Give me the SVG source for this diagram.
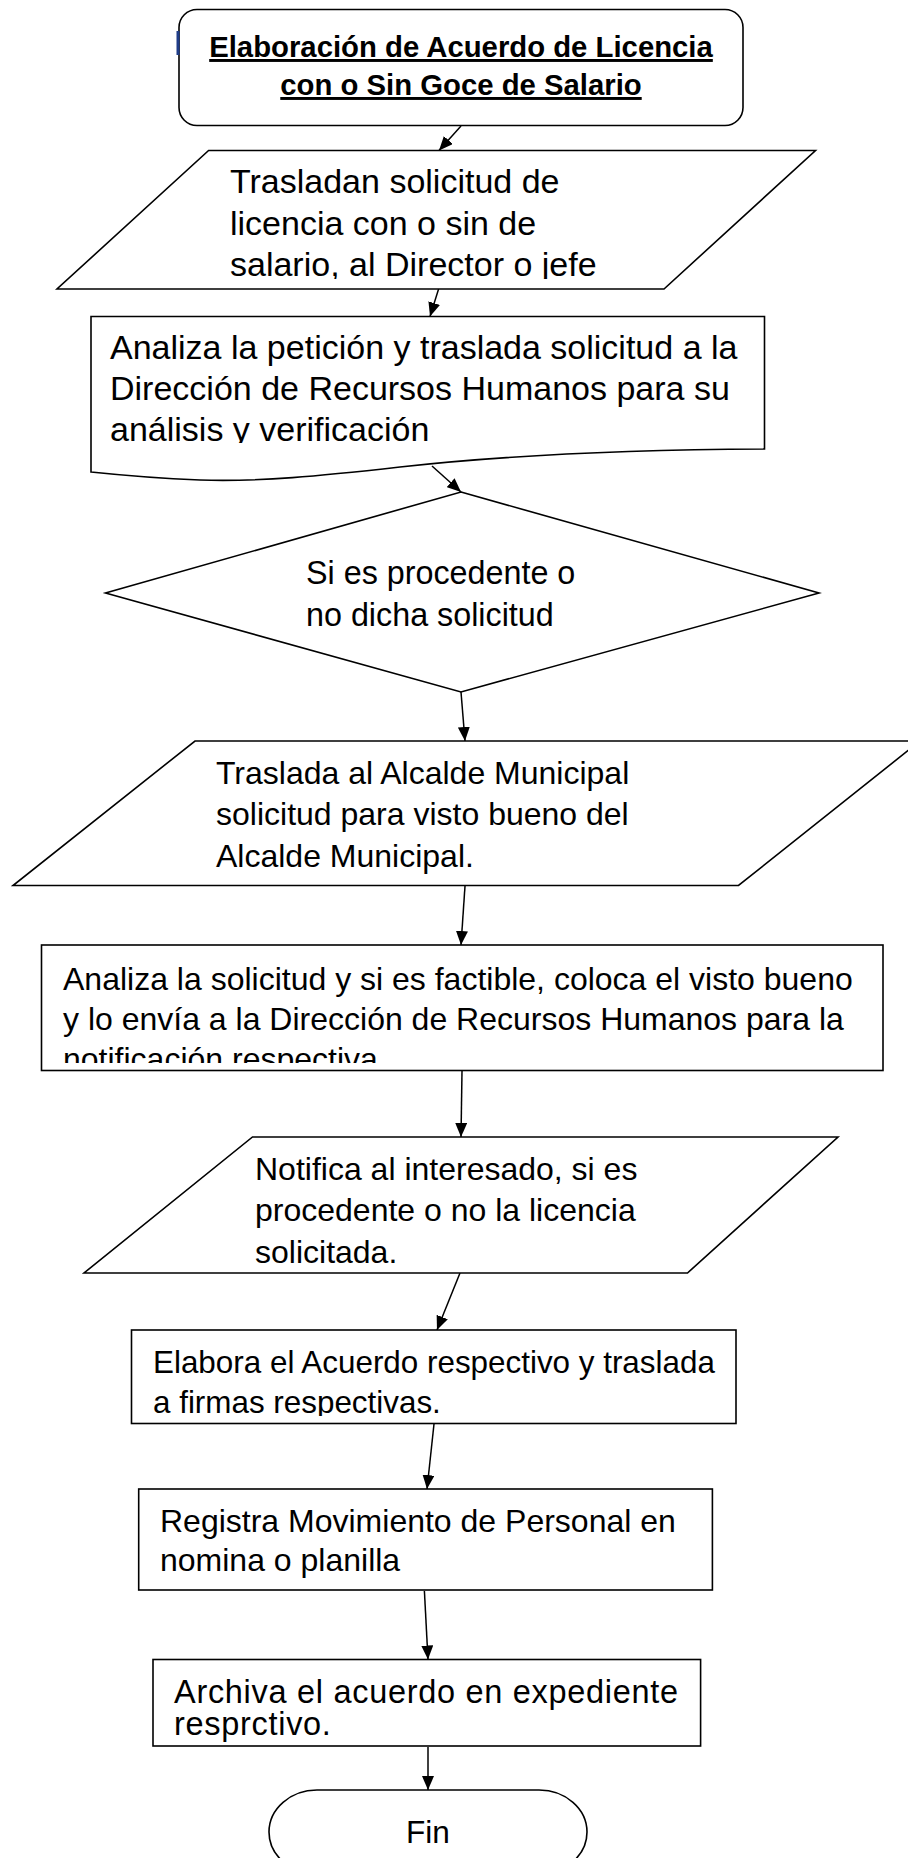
<svg xmlns="http://www.w3.org/2000/svg" width="908" height="1858" viewBox="0 0 908 1858">
<style>
.shape{fill:#fff;stroke:#000;stroke-width:1.6}
.conn{fill:none;stroke:#000;stroke-width:1.5}
.t{font-family:"Liberation Sans",Arial,sans-serif;fill:#000}
.title{font-family:"Liberation Sans",Arial,sans-serif;font-weight:bold;font-size:29.3px;text-anchor:middle;text-decoration:underline;fill:#000}
</style>
<defs>
<marker id="arr" markerWidth="14" markerHeight="12" refX="14" refY="6" orient="auto" markerUnits="userSpaceOnUse">
<path d="M0,0 L14,6 L0,12 Z" fill="#000"/>
</marker>
<clipPath id="c1"><rect x="0" y="150" width="908" height="129"/></clipPath>
<clipPath id="c3"><rect x="0" y="318" width="908" height="125"/></clipPath>
<clipPath id="c8"><rect x="0" y="946" width="908" height="117"/></clipPath>
<clipPath id="c12"><rect x="0" y="1331" width="908" height="85"/></clipPath>
</defs>

<g id="connectors">
<line class="conn" x1="461" y1="126" x2="439" y2="150.5" marker-end="url(#arr)"/>
<line class="conn" x1="438.6" y1="289" x2="430" y2="316.5" marker-end="url(#arr)"/>
<line class="conn" x1="432" y1="466" x2="461" y2="492" marker-end="url(#arr)"/>
<line class="conn" x1="461" y1="692" x2="465" y2="741" marker-end="url(#arr)"/>
<line class="conn" x1="465" y1="886" x2="461" y2="945" marker-end="url(#arr)"/>
<line class="conn" x1="462" y1="1071" x2="461" y2="1137" marker-end="url(#arr)"/>
<line class="conn" x1="460" y1="1273" x2="437" y2="1330" marker-end="url(#arr)"/>
<line class="conn" x1="434" y1="1424" x2="427" y2="1489" marker-end="url(#arr)"/>
<line class="conn" x1="424.4" y1="1591" x2="428" y2="1659.5" marker-end="url(#arr)"/>
<line class="conn" x1="428" y1="1747" x2="428" y2="1790" marker-end="url(#arr)"/>
</g>

<g id="start">
<rect class="shape" x="179" y="9.5" width="564" height="116" rx="18" ry="18"/>
<rect x="176.5" y="31" width="3" height="24" fill="#1f3c88"/>
<text class="title" x="461" y="57">Elaboración de Acuerdo de Licencia</text>
<text class="title" x="461" y="95">con o Sin Goce de Salario</text>
</g>

<g id="n1">
<polygon class="shape" points="208.6,150.5 815.5,150.5 664,289 57,289"/>
<g clip-path="url(#c1)">
<text class="t" font-size="34" x="230" y="193">Trasladan solicitud de</text>
<text class="t" font-size="34" x="230" y="235">licencia con o sin de</text>
<text class="t" font-size="34" x="230" y="276">salario, al Director o jefe</text>
</g>
</g>

<g id="n2">
<path class="shape" d="M91,316.5 H764.5 V449 C600,450 480,458 400,467 C320,476 260,482 200,480 C150,478 110,474 91,472 Z"/>
<g clip-path="url(#c3)">
<text class="t" font-size="34" x="110" y="359">Analiza la petición y traslada solicitud a la</text>
<text class="t" font-size="34" x="110" y="400">Dirección de Recursos Humanos para su</text>
<text class="t" font-size="34" x="110" y="441">análisis y verificación</text>
</g>
</g>

<g id="n3">
<polygon class="shape" points="461,492 819,593 461,692 105.5,593"/>
<text class="t" font-size="32.3" x="306" y="584">Si es procedente o</text>
<text class="t" font-size="32.3" x="306" y="626">no dicha solicitud</text>
</g>

<g id="n4">
<polygon class="shape" points="195,741 920,741 738.5,885.5 13,885.5"/>
<text class="t" font-size="32" x="216" y="783.5">Traslada al Alcalde Municipal</text>
<text class="t" font-size="32" x="216" y="825">solicitud para visto bueno del</text>
<text class="t" font-size="32" x="216" y="866.5">Alcalde Municipal.</text>
</g>

<g id="n5">
<rect class="shape" x="41.5" y="945" width="841.5" height="125.5"/>
<g clip-path="url(#c8)">
<text class="t" font-size="32" x="63" y="990">Analiza la solicitud y si es factible, coloca el visto bueno</text>
<text class="t" font-size="32" x="63" y="1030">y lo envía a la Dirección de Recursos Humanos para la</text>
<text class="t" font-size="32" x="63" y="1070">notificación respectiva</text>
</g>
</g>

<g id="n6">
<polygon class="shape" points="252.5,1137 838,1137 687.5,1273 84,1273"/>
<text class="t" font-size="32" x="255" y="1179.5">Notifica al interesado, si es</text>
<text class="t" font-size="32" x="255" y="1221">procedente o no la licencia</text>
<text class="t" font-size="32" x="255" y="1262.5">solicitada.</text>
</g>

<g id="n7">
<rect class="shape" x="131.5" y="1330" width="604.5" height="93.5"/>
<g clip-path="url(#c12)">
<text class="t" font-size="31.4" x="153" y="1372.6">Elabora el Acuerdo respectivo y traslada</text>
<text class="t" font-size="31.4" x="153" y="1413">a firmas respectivas.</text>
</g>
</g>

<g id="n8">
<rect class="shape" x="138.7" y="1489" width="573.7" height="101"/>
<text class="t" font-size="32" x="160" y="1531.5">Registra Movimiento de Personal en</text>
<text class="t" font-size="32" x="160" y="1570.6">nomina o planilla</text>
</g>

<g id="n9">
<rect class="shape" x="153" y="1659.5" width="547.6" height="86.5"/>
<text class="t" font-size="32.5" letter-spacing="0.7" x="174" y="1703">Archiva el acuerdo en expediente</text>
<text class="t" font-size="32.5" letter-spacing="0.7" x="174" y="1735">resprctivo.</text>
</g>

<g id="end">
<rect class="shape" x="269" y="1790" width="318" height="84" rx="48" ry="42"/>
<text class="t" font-size="31.6" x="428" y="1843" text-anchor="middle">Fin</text>
</g>
</svg>
